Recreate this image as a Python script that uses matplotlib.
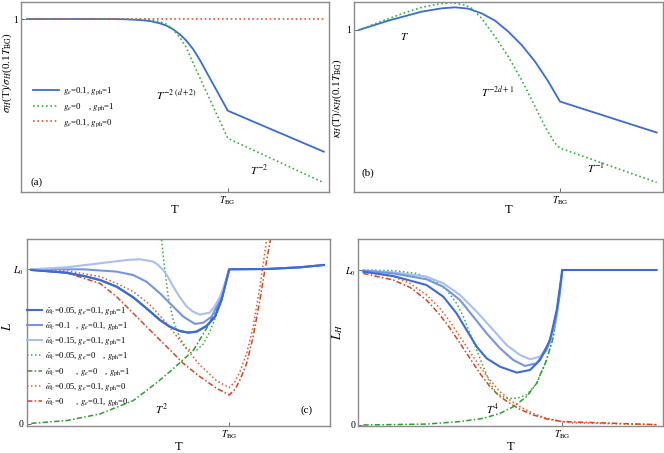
import matplotlib
matplotlib.use("Agg")
import matplotlib.pyplot as plt

plt.rcParams['font.family'] = ['Liberation Serif', 'DejaVu Serif']
plt.rcParams['mathtext.fontset'] = 'stix'

# x values are log10(T/T_BG); (a),(b) y values are log10 of the ratio; (c),(d) y are L/L0
# ---------- panel (a) ----------
a_blue_x = [-1.0, -0.570, -0.504, -0.438, -0.388, -0.338, -0.305, -0.272, -0.239, -0.206, -0.172, -0.139, 0.0, 0.478]
a_blue_y = [0.0, 0.0, -0.007, -0.022, -0.043, -0.094, -0.145, -0.225, -0.333, -0.471, -0.659, -0.891, -1.993, -2.884]
a_green_x = [-1.0, -0.504, -0.438, -0.388, -0.338, -0.305, -0.272, -0.239, -0.206, -0.181, 0.0, 0.478]
a_green_y = [0.0, 0.0, -0.004, -0.014, -0.058, -0.116, -0.225, -0.399, -0.623, -0.877, -2.594, -3.558]
a_red_x = [-1.0, 0.478]
a_red_y = [0.0, 0.0]
a_labels = [r'$g_e$=0.1, $g_{\rm ph}$=1', r'$g_e$=0    , $g_{\rm ph}$=1', r'$g_e$=0.1, $g_{\rm ph}$=0']

# ---------- panel (b) ----------
b_blue_x = [-1.0, -0.854, -0.688, -0.589, -0.522, -0.456, -0.390, -0.323, -0.257, -0.191, -0.124, -0.058, 0.0, 0.481]
b_blue_y = [0.0, 0.203, 0.399, 0.471, 0.493, 0.464, 0.362, 0.203, -0.036, -0.326, -0.688, -1.123, -1.558, -2.233]
b_green_x = [-1.0, -0.871, -0.771, -0.688, -0.605, -0.539, -0.473, -0.439, -0.390, -0.323, -0.257, -0.191, -0.124, -0.075, -0.025, 0.0, 0.481]
b_green_y = [0.0, 0.217, 0.377, 0.493, 0.565, 0.594, 0.543, 0.471, 0.254, -0.145, -0.580, -1.087, -1.667, -2.101, -2.464, -2.572, -3.320]

# ---------- panel (c) ----------
c_b1_x = [-1.0, -0.822, -0.721, -0.653, -0.569, -0.485, -0.418, -0.350, -0.300, -0.249, -0.207, -0.165, -0.114, -0.072, -0.039, 0.0, 0.189, 0.357, 0.478]
c_b1_y = [0.996, 0.978, 0.953, 0.931, 0.888, 0.819, 0.748, 0.672, 0.629, 0.601, 0.591, 0.597, 0.634, 0.694, 0.802, 1.0, 1.002, 1.013, 1.028]
c_b2_x = [-1.0, -0.737, -0.569, -0.485, -0.418, -0.350, -0.283, -0.232, -0.173, -0.131, -0.089, -0.047, 0.0]
c_b2_y = [1.0, 1.0, 0.985, 0.963, 0.920, 0.845, 0.759, 0.694, 0.647, 0.655, 0.694, 0.802, 1.0]
c_b3_x = [-1.0, -0.822, -0.653, -0.519, -0.451, -0.384, -0.359, -0.333, -0.308, -0.283, -0.249, -0.215, -0.182, -0.148, -0.098, -0.072, -0.047, -0.022, 0.0]
c_b3_y = [1.0, 1.013, 1.039, 1.060, 1.065, 1.050, 1.028, 0.996, 0.948, 0.888, 0.819, 0.759, 0.726, 0.707, 0.720, 0.763, 0.823, 0.899, 1.0]
c_g1_x = [-0.350, -0.342, -0.333, -0.325, -0.308, -0.283, -0.249, -0.215, -0.190, -0.165, -0.131, -0.098, -0.064, -0.030, 0.0]
c_g1_y = [1.319, 1.196, 1.082, 0.996, 0.823, 0.672, 0.554, 0.489, 0.474, 0.478, 0.517, 0.597, 0.705, 0.856, 1.0]
c_g2_x = [-1.0, -0.822, -0.653, -0.485, -0.418, -0.350, -0.300, -0.249, -0.182, -0.114, -0.064, -0.030, 0.0]
c_g2_y = [0.004, 0.022, 0.065, 0.151, 0.216, 0.284, 0.338, 0.397, 0.474, 0.619, 0.748, 0.856, 1.0]
c_r1_x = [-1.0, -0.822, -0.653, -0.569, -0.485, -0.401, -0.316, -0.232, -0.148, -0.064, 0.0, 0.029, 0.054, 0.088, 0.121, 0.155, 0.172, 0.189, 0.194]
c_r1_y = [1.0, 0.991, 0.953, 0.909, 0.856, 0.772, 0.651, 0.511, 0.381, 0.280, 0.235, 0.274, 0.338, 0.457, 0.629, 0.888, 1.039, 1.196, 1.319]
c_r2_x = [-1.0, -0.822, -0.653, -0.569, -0.485, -0.401, -0.316, -0.232, -0.148, -0.064, 0.0, 0.029, 0.054, 0.088, 0.121, 0.155, 0.180, 0.209, 0.215]
c_r2_y = [0.996, 0.978, 0.909, 0.823, 0.716, 0.608, 0.500, 0.392, 0.306, 0.231, 0.188, 0.224, 0.284, 0.392, 0.565, 0.802, 0.996, 1.196, 1.319]
c_labels = [r'$\tilde{\omega}_c$=0.05, $g_e$=0.1, $g_{\rm ph}$=1',
            r'$\tilde{\omega}_c$=0.1   , $g_e$=0.1, $g_{\rm ph}$=1',
            r'$\tilde{\omega}_c$=0.15, $g_e$=0.1, $g_{\rm ph}$=1',
            r'$\tilde{\omega}_c$=0.05, $g_e$=0    , $g_{\rm ph}$=1',
            r'$\tilde{\omega}_c$=0      , $g_e$=0    , $g_{\rm ph}$=1',
            r'$\tilde{\omega}_c$=0.05, $g_e$=0.1, $g_{\rm ph}$=0',
            r'$\tilde{\omega}_c$=0      , $g_e$=0.1, $g_{\rm ph}$=0']

# ---------- panel (d) ----------
d_b1_x = [-1.0, -0.849, -0.682, -0.598, -0.531, -0.481, -0.430, -0.380, -0.313, -0.229, -0.162, -0.112, -0.062, -0.028, 0.0, 0.474]
d_b1_y = [0.989, 0.961, 0.903, 0.828, 0.720, 0.613, 0.505, 0.430, 0.376, 0.338, 0.355, 0.419, 0.548, 0.742, 1.0, 1.0]
d_b2_x = [-1.0, -0.849, -0.682, -0.598, -0.514, -0.447, -0.380, -0.313, -0.246, -0.188, -0.129, -0.079, -0.037, -0.012, 0.0]
d_b2_y = [0.996, 0.978, 0.940, 0.892, 0.806, 0.699, 0.591, 0.495, 0.419, 0.381, 0.398, 0.484, 0.656, 0.849, 1.0]
d_b3_x = [-1.0, -0.849, -0.682, -0.598, -0.514, -0.430, -0.347, -0.280, -0.213, -0.162, -0.112, -0.062, -0.028, 0.0]
d_b3_y = [0.996, 0.985, 0.957, 0.914, 0.839, 0.731, 0.613, 0.516, 0.452, 0.424, 0.441, 0.527, 0.699, 1.0]
d_g1_x = [-1.0, -0.849, -0.732, -0.648, -0.581, -0.531, -0.497, -0.464, -0.430, -0.397, -0.363, -0.330, -0.280, -0.229, -0.179, -0.129, -0.079, -0.045, -0.020, 0.0]
d_g1_y = [1.0, 0.996, 0.978, 0.935, 0.871, 0.785, 0.699, 0.591, 0.484, 0.376, 0.269, 0.204, 0.172, 0.172, 0.194, 0.269, 0.419, 0.570, 0.785, 1.0]
d_g2_x = [-1.0, -0.682, -0.514, -0.397, -0.313, -0.246, -0.179, -0.129, -0.079, -0.045, -0.020, 0.0]
d_g2_y = [0.0, 0.006, 0.022, 0.043, 0.075, 0.118, 0.183, 0.269, 0.419, 0.570, 0.785, 1.0]
d_r1_x = [-1.0, -0.849, -0.765, -0.682, -0.615, -0.564, -0.514, -0.464, -0.414, -0.363, -0.313, -0.263, -0.213, -0.146, -0.079, 0.0, 0.039, 0.474]
d_r1_y = [0.989, 0.957, 0.914, 0.839, 0.753, 0.667, 0.570, 0.473, 0.376, 0.290, 0.215, 0.161, 0.118, 0.075, 0.043, 0.022, 0.015, 0.002]
d_r2_x = [-1.0, -0.849, -0.765, -0.682, -0.615, -0.564, -0.514, -0.464, -0.414, -0.363, -0.313, -0.263, -0.213, -0.146, -0.079, 0.0, 0.474]
d_r2_y = [0.978, 0.935, 0.888, 0.806, 0.710, 0.624, 0.527, 0.430, 0.333, 0.247, 0.183, 0.140, 0.101, 0.065, 0.039, 0.022, 0.002]

BLUE = '#3a6bd6'
BLUE2 = '#7595e3'
BLUE3 = '#a9bff0'
GREEN = '#2fb33a'
GREEN2 = '#2e9e2e'
RED = '#e8562a'
RED2 = '#d9431c'
FRAME = '#8a8a8a'
DOT = (0, (1, 1.6))
DASHDOT = (0, (3.5, 1.5, 1, 1.5))

fig = plt.figure(figsize=(6.64, 4.53), dpi=100)
axA = fig.add_axes([0.0312, 0.5768, 0.4643, 0.4194])
axB = fig.add_axes([0.5331, 0.5768, 0.4649, 0.4194])
axC = fig.add_axes([0.0402, 0.0596, 0.4568, 0.4128])
axD = fig.add_axes([0.5396, 0.0596, 0.4589, 0.4128])

for ax in (axA, axB, axC, axD):
    for s in ax.spines.values():
        s.set_color(FRAME)
        s.set_linewidth(1.0)
    ax.tick_params(direction='in', length=3, width=0.6, color='#555555',
                   labelsize=7, pad=2)
    ax.set_xticks([0.0])
    ax.set_xticklabels([r'$T_{\rm BG}$'])

# (a)
axA.plot(a_blue_x, a_blue_y, color=BLUE, lw=1.3, label=a_labels[0])
axA.plot(a_green_x, a_green_y, color=GREEN, lw=1.2, ls=DOT, label=a_labels[1])
axA.plot(a_red_x, a_red_y, color=RED, lw=1.2, ls=DOT, label=a_labels[2])
axA.set_xlim(-1.031, 0.504)
axA.set_ylim(-3.754, 0.376)
axA.set_yticks([0.0])
axA.set_yticklabels(['1'])
axA.set_ylabel(r'$\sigma_H$(T)/$\sigma_H$(0.1$T_{\rm BG}$)', fontsize=8, va='center')
axA.yaxis.set_label_coords(-0.045, 0.625)
axA.set_xlabel('T', fontsize=9, va='center')
axA.xaxis.set_label_coords(0.5, -0.096)
axA.legend(loc='upper left', bbox_to_anchor=(0.04, 0.56), frameon=False, fontsize=6.3,
           handlelength=3.0, handletextpad=0.4, labelspacing=0.45, borderpad=0, borderaxespad=0)
axA.text(0.503, 0.509, r'$T^{-2\ (d+2)}$', transform=axA.transAxes, fontsize=8, ha='center', va='center')
axA.text(0.772, 0.114, r'$T^{-2}$', transform=axA.transAxes, fontsize=8, ha='center', va='center')
axA.text(0.05, 0.05, '(a)', transform=axA.transAxes, fontsize=8, ha='center', va='center')

# (b)
axB.plot(b_blue_x, b_blue_y, color=BLUE, lw=1.3)
axB.plot(b_green_x, b_green_y, color=GREEN, lw=1.2, ls=DOT)
axB.set_xlim(-1.025, 0.511)
axB.set_ylim(-3.522, 0.615)
axB.set_yticks([0.0])
axB.set_yticklabels(['1'])
axB.set_ylabel(r'$\kappa_H$(T)/$\kappa_H$(0.1$T_{\rm BG}$)', fontsize=8, va='center')
axB.yaxis.set_label_coords(-0.055, 0.49)
axB.set_xlabel('T', fontsize=9, va='center')
axB.xaxis.set_label_coords(0.5, -0.096)
axB.text(0.165, 0.815, r'$T$', transform=axB.transAxes, fontsize=8, ha='center', va='center')
axB.text(0.466, 0.52, r'$T^{-2d+1}$', transform=axB.transAxes, fontsize=8, ha='center', va='center')
axB.text(0.784, 0.126, r'$T^{-1}$', transform=axB.transAxes, fontsize=8, ha='center', va='center')
axB.text(0.046, 0.095, '(b)', transform=axB.transAxes, fontsize=8, ha='center', va='center')

# (c)
cl = []
cl += axC.plot(c_b1_x, c_b1_y, color=BLUE, lw=1.5, label=c_labels[0])
cl += axC.plot(c_b2_x, c_b2_y, color=BLUE2, lw=1.5, label=c_labels[1])
cl += axC.plot(c_b3_x, c_b3_y, color=BLUE3, lw=1.5, label=c_labels[2])
cl += axC.plot(c_g1_x, c_g1_y, color=GREEN, lw=1.1, ls=DOT, label=c_labels[3])
cl += axC.plot(c_g2_x, c_g2_y, color=GREEN2, lw=1.1, ls=DASHDOT, label=c_labels[4])
cl += axC.plot(c_r1_x, c_r1_y, color=RED, lw=1.1, ls=DOT, label=c_labels[5])
cl += axC.plot(c_r2_x, c_r2_y, color=RED2, lw=1.1, ls=DASHDOT, label=c_labels[6])
for l in cl[:3]:
    l.set_zorder(3)
axC.plot(c_b1_x, c_b1_y, color=BLUE, lw=1.5, zorder=4)
axC.set_xlim(-1.023, 0.509)
axC.set_ylim(-0.013, 1.196)
axC.set_yticks([0.0, 1.0])
axC.set_yticklabels(['0', r'$L_0$'])
axC.set_ylabel(r'$L$', fontsize=9, va='center')
axC.yaxis.set_label_coords(-0.064, 0.53)
axC.set_xlabel('T', fontsize=9, va='center')
axC.xaxis.set_label_coords(0.5, -0.112)
axC.legend(handles=cl, loc='upper left', bbox_to_anchor=(0.0, 0.648), frameon=False, fontsize=6.1,
           handlelength=1.8, handletextpad=0.4, labelspacing=0.4, borderpad=0, borderaxespad=0)
axC.text(0.443, 0.086, r'$T^2$', transform=axC.transAxes, fontsize=8, ha='center', va='center')
axC.text(0.924, 0.086, '(c)', transform=axC.transAxes, fontsize=8, ha='center', va='center')

# (d)
axD.plot(d_r1_x, d_r1_y, color=RED, lw=1.1, ls=DOT)
axD.plot(d_r2_x, d_r2_y, color=RED2, lw=1.1, ls=DASHDOT)
axD.plot(d_g1_x, d_g1_y, color=GREEN, lw=1.1, ls=DOT)
axD.plot(d_g2_x, d_g2_y, color=GREEN2, lw=1.1, ls=DASHDOT)
axD.plot(d_b3_x, d_b3_y, color=BLUE3, lw=1.5)
axD.plot(d_b2_x, d_b2_y, color=BLUE2, lw=1.5)
axD.plot(d_b1_x, d_b1_y, color=BLUE, lw=1.5)
axD.set_xlim(-1.025, 0.506)
axD.set_ylim(-0.0065, 1.2)
axD.set_yticks([0.0, 1.0])
axD.set_yticklabels(['0', r'$L_0$'])
axD.set_ylabel(r'$L_H$', fontsize=9, va='center')
axD.yaxis.set_label_coords(-0.067, 0.50)
axD.set_xlabel('T', fontsize=9, va='center')
axD.xaxis.set_label_coords(0.5, -0.112)
axD.text(0.442, 0.091, r'$T^4$', transform=axD.transAxes, fontsize=8, ha='center', va='center')

fig.savefig('out.png', dpi=100)
